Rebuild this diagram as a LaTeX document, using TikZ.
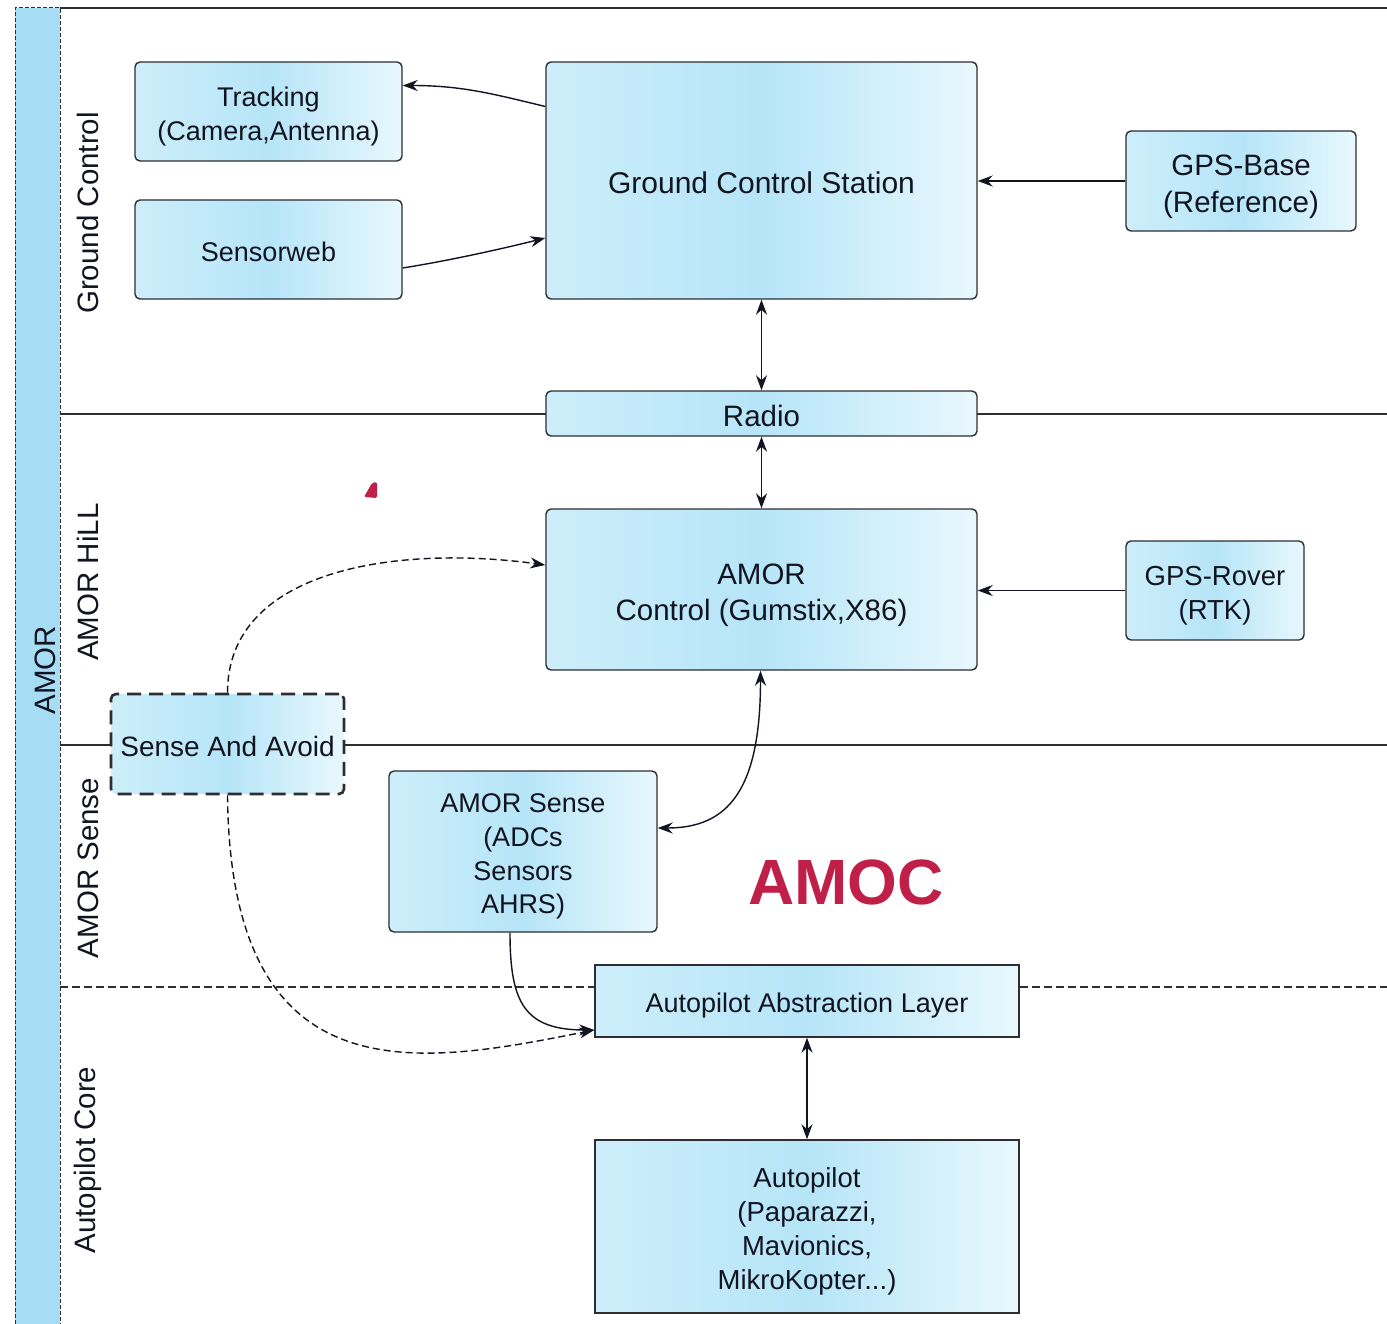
\documentclass[tikz,border=0pt]{standalone}
\usepackage{fontspec}
\setmainfont{Liberation Sans}
\usetikzlibrary{arrows.meta,calc}
\definecolor{boxL}{RGB}{205,238,250}
\definecolor{boxM}{RGB}{182,229,248}
\definecolor{boxR}{RGB}{232,248,253}
\definecolor{band}{RGB}{166,221,245}
\definecolor{boxline}{RGB}{45,45,50}
\definecolor{txt}{RGB}{18,20,32}
\definecolor{amoc}{RGB}{192,32,72}
\newcommand{\Tup}{\rule{0pt}{1.085em}}
\newcommand{\Bdn}{\rule[-0.22em]{0pt}{0pt}}
\begin{document}
\begin{tikzpicture}[x=1pt,y=-1pt,
  >={Stealth[length=15pt,width=11pt]},
  box/.style={draw=boxline, line width=1.4pt, rounded corners=5pt,
    left color=boxL, right color=boxR, middle color=boxM,
    align=center, inner sep=0pt, text=txt,
    font=\fontsize{27}{34}\selectfont},
  sqbox/.style={box, rounded corners=0pt},
  lane/.style={rotate=90, text=txt, font=\fontsize{29.5}{34}\selectfont},
  conn/.style={line width=1.4pt, draw=txt},
  dconn/.style={conn, dash pattern=on 7pt off 4pt},
  sep/.style={line width=1.2pt, draw=boxline}]
\useasboundingbox (0,0) rectangle (1387,1324);
\fill[white] (0,0) rectangle (1387,1324);
% left band
\fill[band] (15,8) rectangle (60,1324);
\draw[line width=1pt, dash pattern=on 4pt off 2pt, draw=boxline]
  (15,1324) -- (15,8) -- (60,8) -- (60,1324);
\node[lane] (amorband) at (45,670) {AMOR};
% frame and lane separators
\draw[sep] (60,8) -- (1387,8);
\draw[sep] (60,414) -- (1387,414);
\draw[sep] (60,745) -- (1387,745);
\draw[sep, dash pattern=on 8pt off 4pt] (60,987) -- (1387,987);
% lane labels
\node[lane] (lgc) at (88,213) {Ground Control};
\node[lane] (lhill) at (88,582) {AMOR HiLL};
\node[lane] (lsense) at (88,868) {AMOR Sense};
\node[lane] (lcore) at (88,1160) {Autopilot Core};
% boxes
\node[box, minimum width=267pt, minimum height=99pt] (track) at (268.5,111.5) {\Tup Tracking\\(Camera,Antenna)\Bdn};
\node[box, minimum width=267pt, minimum height=99pt] (sweb) at (268.5,249.5) {\Tup Sensorweb\Bdn};
\node[box, minimum width=431pt, minimum height=237pt, font=\fontsize{30}{36}\selectfont] (gcs) at (761.5,180.5) {\Tup Ground Control Station\Bdn};
\node[box, minimum width=230pt, minimum height=100pt, font=\fontsize{29.5}{37}\selectfont] (gpsb) at (1241,181) {\Tup GPS-Base\\(Reference)\Bdn};
\node[box, minimum width=431pt, minimum height=45pt, font=\fontsize{29.5}{34}\selectfont] (radio) at (761.5,413.5) {\Tup Radio\Bdn};
\node[box, minimum width=431pt, minimum height=161pt, font=\fontsize{29.5}{36}\selectfont] (actl) at (761.5,589.5) {\Tup AMOR\\Control (Gumstix,X86)\Bdn};
\node[box, minimum width=178pt, minimum height=99pt, font=\fontsize{27.5}{34}\selectfont] (gpsr) at (1215,590.5) {\Tup GPS-Rover\\(RTK)\Bdn};
\node[box, minimum width=233pt, minimum height=100pt, line width=2.6pt, dash pattern=on 14pt off 8pt, font=\fontsize{28}{34}\selectfont] (saa) at (227.5,744) {\Tup Sense And Avoid\Bdn};
\node[box, minimum width=268pt, minimum height=161pt, font=\fontsize{27}{33.7}\selectfont] (asense) at (523,851.5) {\Tup AMOR Sense\\(ADCs\\Sensors\\AHRS)\Bdn};
\node[sqbox, minimum width=424pt, minimum height=72pt] (aal) at (807,1001) {\Tup Autopilot Abstraction Layer\Bdn};
\node[sqbox, minimum width=424pt, minimum height=173pt, font=\fontsize{27.5}{34}\selectfont] (ap) at (807,1226.5) {\Tup Autopilot\\(Paparazzi,\\Mavionics,\\MikroKopter...)\Bdn};
% AMOC label and mark
\node[text=amoc, font=\fontsize{64}{70}\selectfont\bfseries] (amoc) at (846,882) {AMOC};
\fill[amoc, rounded corners=1.5pt] (364,497) -- (372,483) -- (377,482) -- (377,498) -- cycle;
% connectors
\draw[conn,->] ($(gcs.west)+(0,-74)$) .. controls +(-50,-12) and +(60,0) .. ($(track.east)+(0,-26)$);
\draw[conn,->] ($(sweb.east)+(0,18.5)$) .. controls +(50,-8) and +(-40,10) .. ($(gcs.west)+(0,57.5)$);
\draw[conn,->] (gpsb.west) -- (gpsb.west -| gcs.east);
\draw[conn,<->] (gcs.south) -- (radio.north);
\draw[conn,<->] (radio.south) -- (actl.north);
\draw[conn,->] (gpsr.west) -- (gpsr.west -| actl.east);
\draw[conn,<->] ($(actl.south)+(-1,0)$) .. controls +(0,120) and +(70,0) .. ($(asense.east)+(0,-23.5)$);
\draw[conn,->] ($(asense.south)+(-13,0)$) .. controls +(0,70) and +(-70,0) .. ($(aal.west)+(0,29)$);
\draw[dconn,->] (saa.north) .. controls +(0,-125) and +(-145,-20) .. ($(actl.west)+(0,-24.5)$);
\draw[dconn,->] (saa.south) .. controls +(3,305) and +(-175,35) .. ($(aal.west)+(0,29)$);
\draw[conn,<->] (aal.south) -- (ap.north);
\end{tikzpicture}
\end{document}
